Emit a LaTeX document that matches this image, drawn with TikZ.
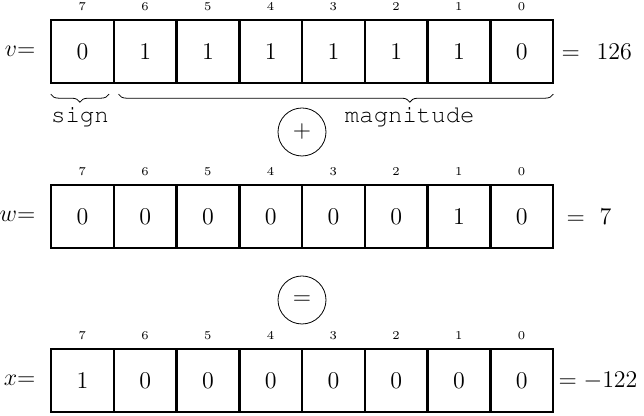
\documentclass[tikz,border=0pt]{standalone}
\usepackage{amsmath,amssymb}
\usepackage[T1]{fontenc}
\usepackage{fontspec}
\newcommand\codefont{\fontencoding{T1}\fontfamily{pcr}\selectfont}
\usepackage{tikz}
\usetikzlibrary{positioning,decorations.pathreplacing}

\begin{document}
\begin{tikzpicture}[
      x=0.5pt,
      y=-0.5pt,
      bit/.style={draw,line width=1.2pt,minimum width=31.4pt,minimum height=31.5pt,inner sep=0pt,font=\large},
      bitnum/.style={inner sep=0pt,font=\fontsize{6}{7}\selectfont},
      lbl/.style={inner sep=0pt,font=\large},
      op/.style={circle,draw,minimum size=24pt,inner sep=0pt,font=\large},
      bracetext/.style={inner sep=0pt,font=\large\codefont},
      brc/.style={decorate,decoration={brace,mirror,amplitude=4pt}}
    ]
    \useasboundingbox (0,0) rectangle (644,416);
    % registers v, w and x, bit 7 on the left
    \foreach \reg/\y/\bits in {v/51.5/{0,1,1,1,1,1,1,0},w/216.5/{0,0,0,0,0,0,1,0},x/380.5/{1,0,0,0,0,0,0,0}} {
      \foreach \b [count=\i from 0] in \bits {
        \pgfmathtruncatemacro{\pos}{7-\i}
        \node (\reg\pos) [bit] at ({82.4+62.75*\i},\y) {\b};
        \node (\reg\pos n) [bitnum,above=4pt of \reg\pos] {\pos};
      }
    }
    \node (vlbl) [lbl,left=7pt of v7] {$v$=};
    \node (wlbl) [lbl,left=7pt of w7] {$w$=};
    \node (xlbl) [lbl,left=7pt of x7] {$x$=};
    \node (vval) [lbl,right=3.5pt of v0] {$=\hspace{5pt}126$};
    \node (wval) [lbl,right=6pt of w0] {$=\hspace{4pt}7$};
    \node (xval) [lbl,right=2pt of x0] {$=-122$};
    % sign and magnitude braces
    \draw [brc] ([xshift=0.5pt,yshift=-5pt]v7.south west) -- ([xshift=-3pt,yshift=-5pt]v7.south east)
      node (sign) [bracetext,pos=0.5,anchor=base,yshift=-14pt] {sign};
    \draw [brc,decoration={aspect=0.67}] ([xshift=3pt,yshift=-5pt]v6.south west) -- ([xshift=-0.5pt,yshift=-5pt]v0.south east)
      node (magn) [bracetext,pos=0.67,anchor=base,yshift=-14pt] {magnitude};
    % operators
    \node (plus) [op] at (302,132) {$+$};
    \node (eq) [op] at (302,300) {$=$};
  \end{tikzpicture}
\end{document}
